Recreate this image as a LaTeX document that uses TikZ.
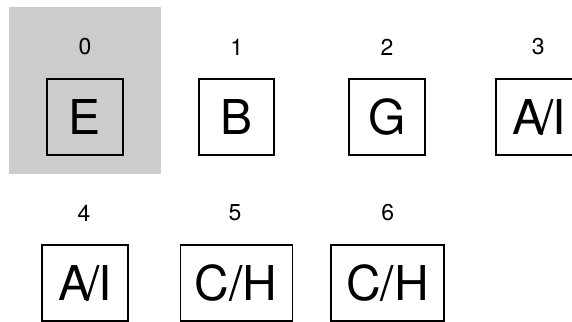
\documentclass[tikz,border=0pt]{standalone}
\usepackage{fontspec}
\setmainfont{TeX Gyre Heros}
\begin{document}
\begin{tikzpicture}[x=1pt,y=-1pt,
  cell/.style={draw=black,line width=1.6pt,minimum height=76pt,inner sep=0pt,font=\fontsize{48}{48}\selectfont},
  idx/.style={inner sep=0pt,font=\fontsize{23}{23}\selectfont}]
\useasboundingbox (0,0) rectangle (572,321);
\clip (0,0) rectangle (572,321);
\fill[black!20] (9,7) rectangle (161,174);
\node[cell,minimum width=76pt] (c0) at (85,117) {E};
\node[cell,minimum width=75pt] (c1) at (236.7,117) {B};
\node[cell,minimum width=76pt] (c2) at (387.2,117) {G};
\node[cell,minimum width=86pt] (c3) at (539,117) {A\kern-4pt/\kern-2pt I};
\node[cell,minimum width=86pt] (c4) at (85,283) {A\kern-4pt/\kern-2pt I};
\node[cell,minimum width=112pt] (c5) at (236.3,283) {C/H};
\node[cell,minimum width=113pt] (c6) at (387.5,283) {C/H};
\node[idx] (l0) at (85,47) {0};
\node[idx] (l1) at (236.7,47) {1};
\node[idx] (l2) at (387,47) {2};
\node[idx] (l3) at (538.3,47) {3};
\node[idx] (l4) at (84,213) {4};
\node[idx] (l5) at (235,213) {5};
\node[idx] (l6) at (387.7,213) {6};
\end{tikzpicture}
\end{document}
